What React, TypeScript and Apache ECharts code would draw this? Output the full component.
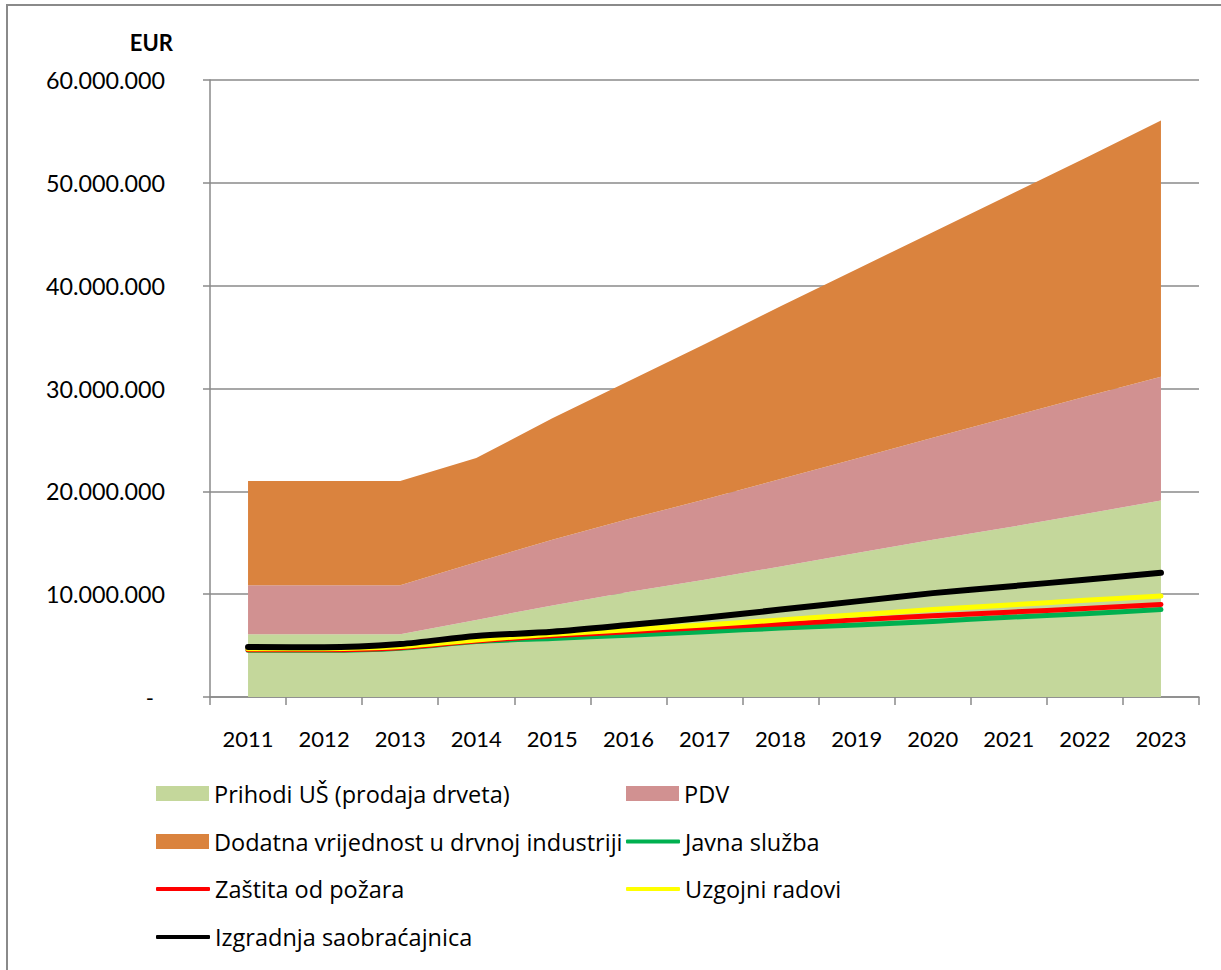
import React, { useEffect, useRef } from "react";
import * as echarts from "echarts";

const years = ["2011", "2012", "2013", "2014", "2015", "2016", "2017", "2018", "2019", "2020", "2021", "2022", "2023"];

const prihodiUS = [6100000, 6100000, 6100000, 7500000, 8900000, 10200000, 11400000, 12700000, 14000000, 15300000, 16500000, 17800000, 19100000];
const pdv = [4760000, 4760000, 4760000, 5600000, 6400000, 7100000, 7800000, 8500000, 9200000, 9900000, 10700000, 11400000, 12050000];
const dodatnaVrijednost = [10140000, 10140000, 10140000, 10140000, 11800000, 13400000, 15100000, 16800000, 18400000, 20000000, 21600000, 23200000, 24900000];

const javnaSluzba = [4550000, 4550000, 4750000, 5400000, 5700000, 6000000, 6350000, 6700000, 7000000, 7350000, 7750000, 8100000, 8500000];
const zastitaOdPozara = [4600000, 4600000, 4800000, 5450000, 5950000, 6350000, 6750000, 7100000, 7500000, 7900000, 8250000, 8600000, 9000000];
const uzgojniRadovi = [4700000, 4700000, 4900000, 5550000, 6100000, 6550000, 7000000, 7500000, 8000000, 8500000, 8950000, 9400000, 9820000];
const izgradnjaSaobracajnica = [4860000, 4830000, 5150000, 5930000, 6350000, 7000000, 7700000, 8500000, 9300000, 10100000, 10750000, 11400000, 12090000];

const FONT = "Lato, 'Open Sans', sans-serif";
const LEGEND_FONT = "'Open Sans', Lato, sans-serif";
const AXIS_GRAY = "#8a8a8a";

const C_GREEN_AREA = "#C4D79B";
const C_PINK_AREA = "#D19191";
const C_ORANGE_AREA = "#DA833E";

function fmt(v: number): string {
  if (v === 0) return "{d|-}";
  return String(v).replace(/\B(?=(\d{3})+(?!\d))/g, ".");
}

export default function App() {
  const ref = useRef<HTMLDivElement>(null);

  useEffect(() => {
    if (!ref.current) return;
    const chart = echarts.init(ref.current, undefined, { renderer: "svg" });

    const areaSeries = (name: string, data: number[], color: string) => ({
      name,
      type: "line",
      stack: "total",
      data,
      color,
      symbol: "none",
      showSymbol: false,
      lineStyle: { width: 0, color },
      itemStyle: { color },
      areaStyle: { color, opacity: 1 },
      z: 2,
    });
    const lineSeries = (name: string, data: number[], color: string, width: number, z: number) => ({
      name,
      type: "line",
      data,
      color,
      symbol: "none",
      showSymbol: false,
      smooth: 0.3,
      lineStyle: { width, color, cap: "round", join: "round" },
      itemStyle: { color },
      z,
    });

    const rowY = [793.5, 841.5, 889, 937];
    const col1 = 156;
    const col2 = 626;
    const textStyle = { fontFamily: LEGEND_FONT, fontSize: 23.5, color: "#000" };
    const mkLegend = (name: string, left: number, row: number, isLine: boolean) => ({
      data: [{ name, icon: isLine ? "roundRect" : "rect" }],
      left,
      top: rowY[row] - 12,
      itemWidth: isLine ? 54 : 53,
      itemHeight: isLine ? 4 : 15,
      itemStyle: { borderWidth: 0 },
      selectedMode: false,
      padding: 0,
      textStyle,
    });

    chart.setOption({
      animation: false,
      backgroundColor: "#fff",
      grid: { left: 210, right: 22, top: 80, bottom: 273, containLabel: false },
      xAxis: {
        type: "category",
        data: years,
        boundaryGap: true,
        axisLine: { lineStyle: { color: AXIS_GRAY, width: 1.5 } },
        axisTick: { show: true, length: 8, interval: 0, alignWithLabel: false, lineStyle: { color: AXIS_GRAY, width: 1.5 } },
        axisLabel: { margin: 30, interval: 0, fontFamily: FONT, fontSize: 22, color: "#000" },
        splitLine: { show: false },
      },
      yAxis: {
        type: "value",
        min: 0,
        max: 60000000,
        interval: 10000000,
        axisLine: { show: true, lineStyle: { color: AXIS_GRAY, width: 1.5 } },
        axisTick: { show: true, length: 7, lineStyle: { color: AXIS_GRAY, width: 1.5 } },
        axisLabel: {
          margin: 45,
          fontFamily: FONT,
          fontSize: 23.3,
          color: "#000",
          formatter: fmt,
          rich: { d: { fontFamily: FONT, fontSize: 22, color: "#000", padding: [0, 11, 0, 0] } },
        },
        splitLine: { show: true, lineStyle: { color: AXIS_GRAY, width: 1.5 } },
      },
      legend: [
        mkLegend("Prihodi UŠ (prodaja drveta)", col1, 0, false),
        mkLegend("PDV", col2, 0, false),
        mkLegend("Dodatna vrijednost u drvnoj industriji", col1, 1, false),
        mkLegend("Javna služba", col2, 1, true),
        mkLegend("Zaštita od požara", col1, 2, true),
        mkLegend("Uzgojni radovi", col2, 2, true),
        mkLegend("Izgradnja saobraćajnica", col1, 3, true),
      ],
      graphic: [
        {
          type: "rect",
          shape: { x: 7, y: 5, width: 1400, height: 1200 },
          style: { fill: "none", stroke: AXIS_GRAY, lineWidth: 2 },
          silent: true,
          z: 0,
        },
        {
          type: "text",
          x: 173,
          y: 42,
          style: {
            text: "EUR",
            fontFamily: FONT,
            fontSize: 22,
            fontWeight: "bold",
            fill: "#000",
            align: "right",
            verticalAlign: "middle",
          },
        },
      ],
      series: [
        areaSeries("Prihodi UŠ (prodaja drveta)", prihodiUS, C_GREEN_AREA),
        areaSeries("PDV", pdv, C_PINK_AREA),
        areaSeries("Dodatna vrijednost u drvnoj industriji", dodatnaVrijednost, C_ORANGE_AREA),
        lineSeries("Javna služba", javnaSluzba, "#00B050", 5, 3),
        lineSeries("Zaštita od požara", zastitaOdPozara, "#FF0000", 5, 4),
        lineSeries("Uzgojni radovi", uzgojniRadovi, "#FFFF00", 5, 5),
        lineSeries("Izgradnja saobraćajnica", izgradnjaSaobracajnica, "#000000", 6, 6),
      ],
    });

    return () => chart.dispose();
  }, []);

  return (
    <div
      ref={ref}
      style={{ position: "fixed", left: 0, top: 0, width: 1221, height: 970 }}
    />
  );
}
